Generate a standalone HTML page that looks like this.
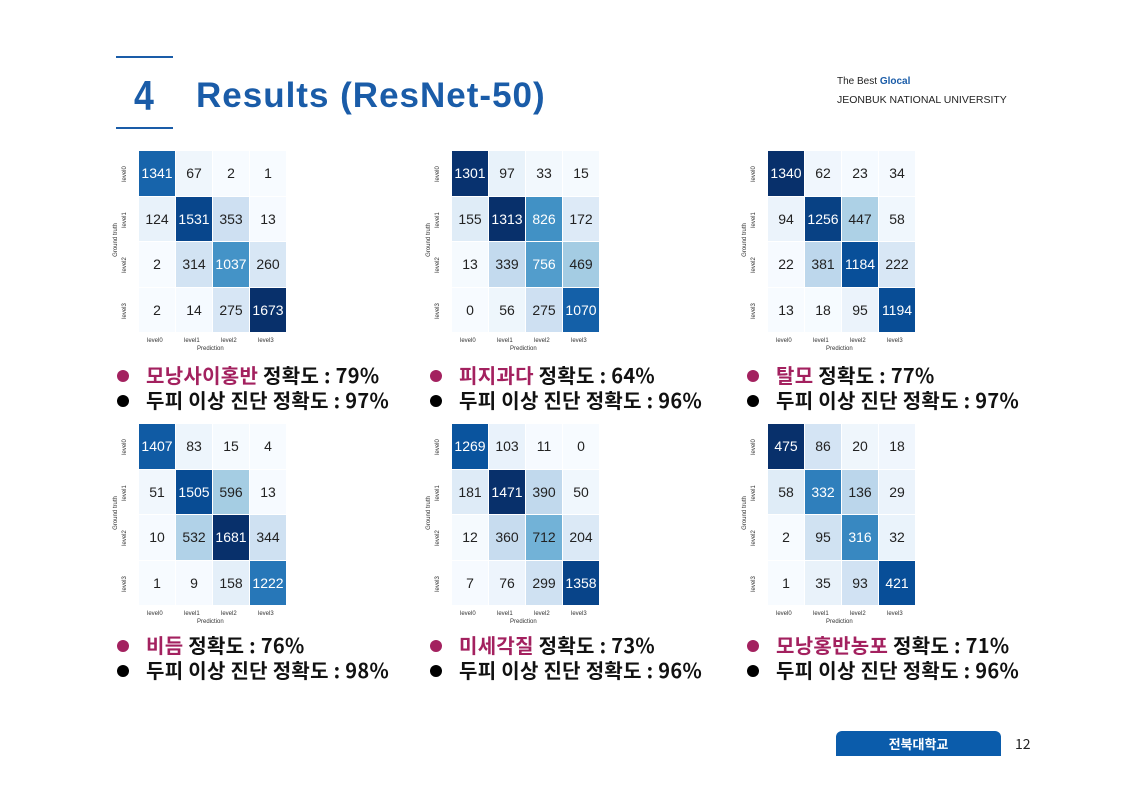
<!DOCTYPE html>
<html><head><meta charset="utf-8"><style>
body{margin:0;width:1121px;height:793px;background:#fff;position:relative;overflow:hidden;font-family:"Liberation Sans","Noto Sans CJK KR",sans-serif}
.abs{position:absolute}
.cell{position:absolute;display:flex;align-items:center;justify-content:center;font-size:14px;font-family:"Liberation Sans",sans-serif}
.small{position:absolute;font-size:6px;color:#333;font-family:"Liberation Sans",sans-serif}
.txt{position:absolute;font-family:"Noto Sans CJK KR",sans-serif;font-weight:bold;font-size:20px;letter-spacing:0.3px;color:#111;white-space:nowrap;line-height:24px}
.dot{display:inline-block;width:12px;height:12px;border-radius:50%;margin-right:17px;vertical-align:1px}
.m{color:#a3215f}
</style></head><body>
<div class="abs" style="left:116px;top:56px;width:57px;height:1.5px;background:#1a5ca8"></div>
<div class="abs" style="left:116px;top:127px;width:57px;height:1.5px;background:#1a5ca8"></div>
<div class="abs" style="left:134px;top:72px;font-size:42px;font-weight:bold;color:#1a5ca8;transform:scaleX(0.85);transform-origin:left">4</div>
<div class="abs" style="left:196px;top:76px;font-size:35px;letter-spacing:1px;font-weight:bold;color:#1a5ca8">Results (ResNet-50)</div>
<div class="abs" style="left:837px;top:76px;font-size:10px;color:#222">The Best <b style="color:#1a5ca8">Glocal</b></div>
<div class="abs" style="left:837px;top:94px;font-size:10.5px;color:#222">JEONBUK NATIONAL UNIVERSITY</div>
<div class="abs" style="left:836px;top:731px;width:165px;height:25px;background:#0b5cab;border-radius:6px 6px 0 0;color:#fff;font-family:'Noto Sans CJK KR',sans-serif;font-weight:bold;font-size:13px;text-align:center;line-height:25px">전북대학교</div>
<div class="abs" style="left:1015px;top:734px;font-size:14px;color:#222;font-family:'Noto Sans CJK KR',sans-serif">12</div>
<div id="c"></div>
<script>
var mats=[
[[1341,67,2,1],[124,1531,353,13],[2,314,1037,260],[2,14,275,1673]],
[[1301,97,33,15],[155,1313,826,172],[13,339,756,469],[0,56,275,1070]],
[[1340,62,23,34],[94,1256,447,58],[22,381,1184,222],[13,18,95,1194]],
[[1407,83,15,4],[51,1505,596,13],[10,532,1681,344],[1,9,158,1222]],
[[1269,103,11,0],[181,1471,390,50],[12,360,712,204],[7,76,299,1358]],
[[475,86,20,18],[58,332,136,29],[2,95,316,32],[1,35,93,421]]];
var pos=[[139,151],[452,151],[768,151],[139,424],[452,424],[768,424]];
var stops=[[247,251,255],[222,235,247],[198,219,239],[158,202,225],[107,174,214],[66,146,198],[33,113,181],[8,81,156],[8,48,107]];
function col(t){t=Math.max(0,Math.min(1,t))*8;var i=Math.min(7,Math.floor(t)),f=t-i;var a=stops[i],b=stops[i+1];return 'rgb('+[0,1,2].map(k=>Math.round(a[k]+(b[k]-a[k])*f)).join(',')+')';}
var h='';var W=37,H=45.5;
mats.forEach(function(m,p){var x0=pos[p][0],y0=pos[p][1];var mx=0,mn=1e9;m.forEach(r=>r.forEach(v=>{mx=Math.max(mx,v);mn=Math.min(mn,v);}));
for(var r=0;r<4;r++)for(var c=0;c<4;c++){var t=(m[r][c]-mn)/(mx-mn);
h+='<div class="cell" style="left:'+(x0+c*W)+'px;top:'+(y0+r*H)+'px;width:'+(W-1)+'px;height:'+(H-1)+'px;background:'+col(t)+';color:'+(t>0.5?'#fff':'#222')+'">'+m[r][c]+'</div>';}
for(var i=0;i<4;i++){h+='<div class="small" style="left:'+(x0+i*W+8)+'px;top:'+(y0+187)+'px">level'+i+'</div>';
h+='<div class="small" style="left:'+(x0-22)+'px;top:'+(y0+i*H+20)+'px;transform:rotate(-90deg)">level'+i+'</div>';}
h+='<div class="small" style="left:'+(x0+58)+'px;top:'+(y0+195)+'px">Prediction</div>';
h+='<div class="small" style="left:'+(x0-40)+'px;top:'+(y0+86)+'px;transform:rotate(-90deg)">Ground truth</div>';
});
var labs=[['모낭사이홍반','79%','97%'],['피지과다','64%','96%'],['탈모','77%',' 97%'],['비듬','76%','98%'],['미세각질','73%','96%'],['모낭홍반농포','71%','96%']];
var tp=[[117,363],[430,363],[747,363],[117,633],[430,633],[747,633]];
labs.forEach(function(l,i){var x=tp[i][0],y=tp[i][1];
h+='<div class="txt" style="left:'+x+'px;top:'+y+'px"><span class="dot" style="background:#a3215f"></span><span class="m">'+l[0]+'</span> 정확도 : '+l[1]+'</div>';
h+='<div class="txt" style="left:'+x+'px;top:'+(y+25)+'px"><span class="dot" style="background:#000"></span>두피 이상 진단 정확도 : '+l[2]+'</div>';});
document.getElementById('c').innerHTML=h;
</script>
</body></html>
